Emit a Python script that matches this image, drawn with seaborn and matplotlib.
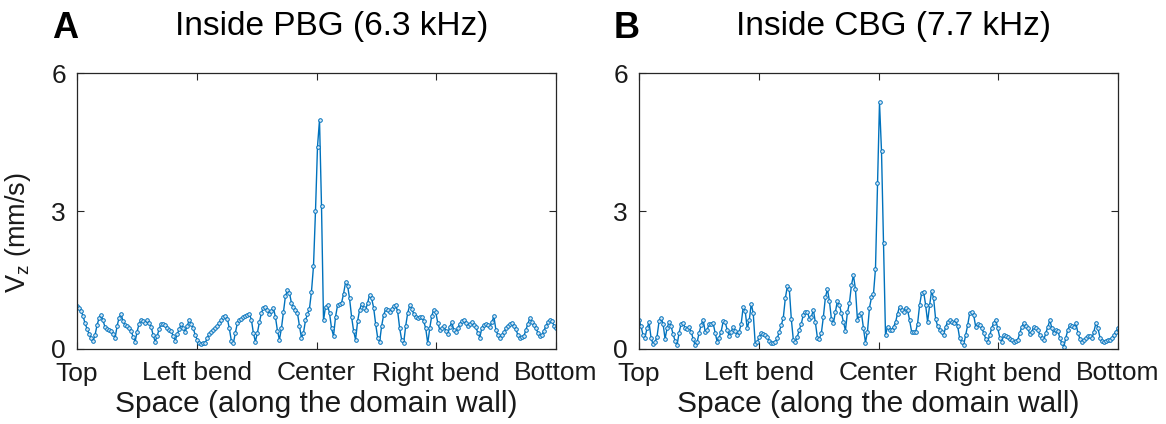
import numpy as np
import pandas as pd
import matplotlib
matplotlib.use("Agg")
import matplotlib.pyplot as plt
import seaborn as sns

# ---- data ----
tick_labels = ["Top", "Left bend", "Center", "Right bend", "Bottom"]
titles = ["Inside PBG (6.3 kHz)", "Inside CBG (7.7 kHz)"]
letters = ["A", "B"]

vz_pbg = [
    0.93, 0.90, 0.83, 0.72, 0.56, 0.44, 0.33, 0.25, 0.17, 0.30,
    0.52, 0.67, 0.74, 0.62, 0.47, 0.43, 0.41, 0.40, 0.33, 0.23,
    0.50, 0.68, 0.76, 0.60, 0.52, 0.50, 0.46, 0.40, 0.26, 0.16,
    0.38, 0.55, 0.64, 0.60, 0.56, 0.62, 0.57, 0.48, 0.30, 0.16,
    0.28, 0.44, 0.55, 0.55, 0.52, 0.46, 0.41, 0.39, 0.28, 0.18,
    0.32, 0.43, 0.54, 0.45, 0.38, 0.50, 0.63, 0.54, 0.45, 0.30,
    0.20, 0.13, 0.11, 0.12, 0.14, 0.24, 0.33, 0.38, 0.42, 0.45,
    0.50, 0.56, 0.63, 0.69, 0.72, 0.66, 0.45, 0.18, 0.12, 0.35,
    0.56, 0.62, 0.66, 0.70, 0.72, 0.74, 0.76, 0.64, 0.35, 0.16,
    0.35, 0.58, 0.78, 0.90, 0.92, 0.84, 0.76, 0.82, 0.89, 0.70,
    0.40, 0.20, 0.45, 0.80, 1.15, 1.28, 1.22, 1.00, 0.92, 0.85,
    0.78, 0.50, 0.24, 0.35, 0.62, 0.76, 0.88, 1.25, 1.80, 3.00,
    4.40, 4.98, 3.10, 0.62, 0.92, 0.95, 0.78, 0.45, 0.28, 0.70,
    0.95, 0.98, 1.00, 1.20, 1.45, 1.38, 1.10, 0.70, 0.40, 0.20,
    0.60, 0.85, 0.98, 0.90, 0.85, 1.00, 1.18, 1.10, 0.90, 0.55,
    0.25, 0.16, 0.50, 0.74, 0.86, 0.85, 0.80, 0.86, 0.93, 0.95,
    0.82, 0.45, 0.20, 0.13, 0.50, 0.78, 0.95, 0.88, 0.76, 0.70,
    0.68, 0.70, 0.70, 0.60, 0.45, 0.12, 0.45, 0.72, 0.85, 0.80,
    0.57, 0.42, 0.46, 0.49, 0.40, 0.33, 0.48, 0.58, 0.42, 0.36,
    0.45, 0.55, 0.60, 0.62, 0.56, 0.51, 0.55, 0.58, 0.52, 0.48,
    0.35, 0.25, 0.46, 0.52, 0.55, 0.52, 0.48, 0.58, 0.71, 0.42,
    0.30, 0.24, 0.30, 0.36, 0.45, 0.51, 0.54, 0.56, 0.50, 0.43,
    0.30, 0.25, 0.26, 0.28, 0.42, 0.55, 0.68, 0.58, 0.52, 0.45,
    0.35, 0.28, 0.30, 0.40, 0.50, 0.58, 0.63, 0.60, 0.51, 0.45,
]

vz_cbg = [
    0.63, 0.50, 0.30, 0.25, 0.45, 0.58, 0.25, 0.10, 0.15, 0.27,
    0.60, 0.68, 0.55, 0.22, 0.45, 0.59, 0.50, 0.32, 0.18, 0.09,
    0.35, 0.55, 0.57, 0.45, 0.44, 0.48, 0.38, 0.22, 0.08, 0.15,
    0.35, 0.52, 0.64, 0.38, 0.42, 0.54, 0.55, 0.56, 0.35, 0.16,
    0.25, 0.38, 0.60, 0.58, 0.42, 0.28, 0.38, 0.48, 0.40, 0.30,
    0.38, 0.55, 0.92, 0.82, 0.45, 0.62, 0.98, 0.78, 0.10, 0.15,
    0.26, 0.34, 0.32, 0.30, 0.26, 0.18, 0.14, 0.12, 0.16, 0.23,
    0.38, 0.52, 0.68, 1.10, 1.36, 1.30, 0.65, 0.20, 0.16, 0.27,
    0.42, 0.55, 0.75, 0.80, 0.81, 0.66, 0.70, 0.85, 0.58, 0.25,
    0.22, 0.35, 0.70, 1.12, 1.30, 1.05, 0.65, 0.56, 0.80, 1.05,
    0.95, 0.78, 0.59, 0.40, 0.80, 1.00, 1.39, 1.60, 1.30, 0.63,
    0.75, 0.78, 0.45, 0.14, 0.38, 0.90, 1.12, 1.20, 1.75, 3.60,
    5.36, 4.30, 2.30, 0.30, 0.48, 0.42, 0.41, 0.48, 0.58, 0.77,
    0.92, 0.85, 0.81, 0.90, 0.85, 0.63, 0.38, 0.38, 0.37, 0.55,
    0.95, 1.21, 1.25, 0.96, 0.59, 0.95, 1.26, 1.10, 0.65, 0.50,
    0.42, 0.36, 0.30, 0.48, 0.59, 0.63, 0.58, 0.56, 0.62, 0.50,
    0.23, 0.16, 0.09, 0.30, 0.52, 0.78, 0.80, 0.74, 0.48, 0.54,
    0.53, 0.45, 0.35, 0.22, 0.16, 0.30, 0.45, 0.57, 0.63, 0.45,
    0.25, 0.16, 0.30, 0.28, 0.27, 0.22, 0.19, 0.16, 0.18, 0.20,
    0.35, 0.48, 0.57, 0.50, 0.45, 0.32, 0.38, 0.48, 0.45, 0.41,
    0.30, 0.25, 0.20, 0.35, 0.48, 0.63, 0.45, 0.34, 0.42, 0.40,
    0.23, 0.12, 0.05, 0.25, 0.42, 0.52, 0.50, 0.48, 0.56, 0.35,
    0.22, 0.16, 0.20, 0.23, 0.28, 0.28, 0.23, 0.38, 0.57, 0.45,
    0.25, 0.18, 0.16, 0.18, 0.20, 0.20, 0.24, 0.30, 0.38, 0.45,
]

y_ticks = [0, 3, 6]

# ---- style ----
sns.set_style("ticks")
plt.rcParams["font.family"] = ["Liberation Sans", "DejaVu Sans"]
plt.rcParams["mathtext.fontset"] = "custom"
plt.rcParams["mathtext.rm"] = "Liberation Sans"
plt.rcParams["mathtext.it"] = "Liberation Sans"

line_color = "#0072BD"
axis_color = "#262626"

fig = plt.figure(figsize=(11.66, 4.24), dpi=100)
W, H = 1166, 424
ax_w = 479 / W
ax_h = 276 / H
ax_b = (H - 349) / H
axA = fig.add_axes([77 / W, ax_b, ax_w, ax_h])
axB = fig.add_axes([639 / W, ax_b, ax_w, ax_h])

for ax, vals, title, letter in zip([axA, axB], [vz_pbg, vz_cbg], titles, letters):
    df = pd.DataFrame({"pos": np.arange(len(vals)), "vz": vals})
    sns.lineplot(data=df, x="pos", y="vz", ax=ax, color=line_color, linewidth=1.0,
                 marker="o", markersize=2.6, markerfacecolor="#dbe9f5",
                 markeredgecolor=line_color, markeredgewidth=0.7)
    n = len(vals)
    ax.set_xlim(0, n - 1)
    ax.set_ylim(0, 6)
    ax.set_xticks(np.linspace(0, n - 1, len(tick_labels)))
    ax.set_xticklabels(tick_labels)
    ax.set_yticks(y_ticks)
    ax.set_yticklabels([str(t) for t in y_ticks])
    ax.tick_params(direction="in", top=True, right=True, length=5, width=0.8,
                   colors=axis_color, labelsize=19)
    ax.tick_params(axis="x", pad=9, labelcolor="#1a1a1a")
    ax.tick_params(axis="y", pad=8, labelcolor="#1a1a1a")
    for s in ax.spines.values():
        s.set_color(axis_color)
        s.set_linewidth(0.9)
    ax.set_xlabel("Space (along the domain wall)", fontsize=21.5, color="#1a1a1a", labelpad=3)
    ax.set_ylabel("")
    ax.grid(False)
    pos = ax.get_position()
    fig.text(pos.x0 + pos.width / 2 + 15 / W, 1 - 27 / H, title, ha="center", va="center",
             fontsize=24, color="black")
    fig.text(pos.x0 - 12 / W, 1 - 28 / H, letter, ha="center", va="center",
             fontsize=26, fontweight="bold", color="black")

axA.set_ylabel(r"V$_\mathregular{z}$ (mm/s)", fontsize=19.5, color="#1a1a1a")
axA.yaxis.set_label_coords(-0.092, 0.42)

fig.savefig("out.png", dpi=100)
